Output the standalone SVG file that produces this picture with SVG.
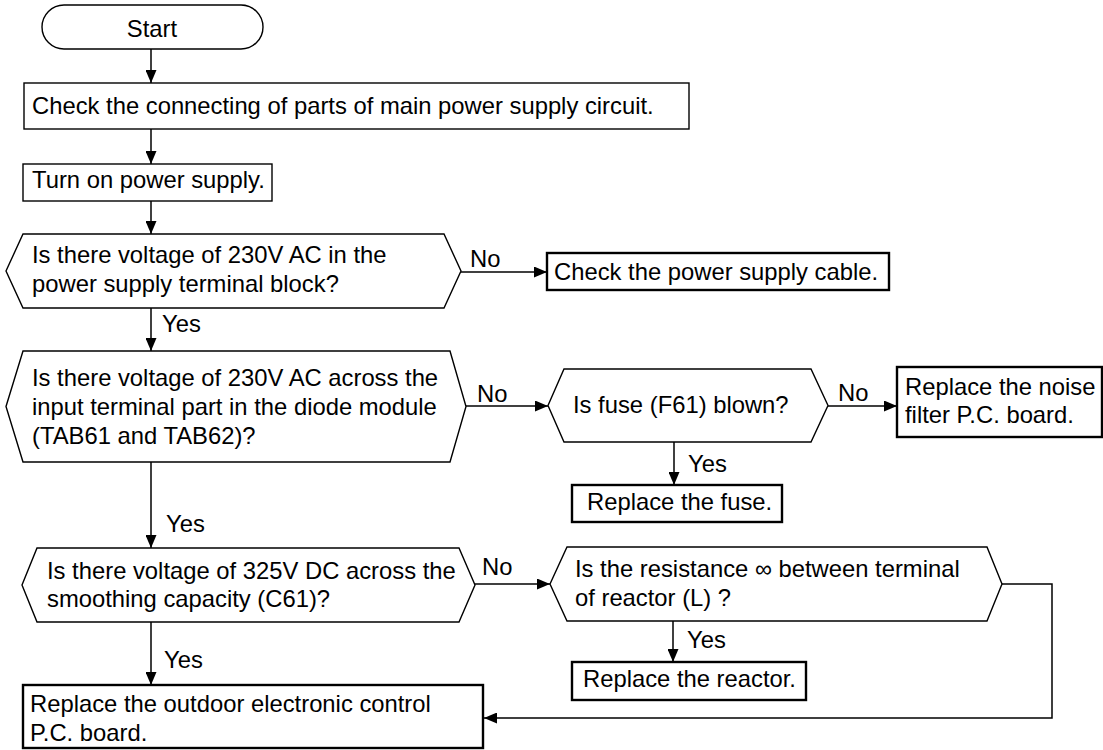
<svg xmlns="http://www.w3.org/2000/svg" width="1103" height="750" viewBox="0 0 1103 750">
<style>
text{font-family:"Liberation Sans",Arial,sans-serif;font-size:23.8px;fill:#000}
.n{fill:#fff;stroke:#000;stroke-width:1.4}
.t{fill:#fff;stroke:#000;stroke-width:2.4}
.c{fill:none;stroke:#000;stroke-width:1.5}
</style>
<defs>
<marker id="a" markerUnits="userSpaceOnUse" markerWidth="13" markerHeight="11" refX="13" refY="5.5" orient="auto">
<path d="M0,0 L13,5.5 L0,11 z" fill="#000"/>
</marker>
</defs>
<rect width="1103" height="750" fill="#fff"/>
<g id="connectors">
<path class="c" d="M151,49 V83" marker-end="url(#a)"/>
<path class="c" d="M151,129 V164" marker-end="url(#a)"/>
<path class="c" d="M151,201 V234" marker-end="url(#a)"/>
<path class="c" d="M461,272 H547" marker-end="url(#a)"/>
<path class="c" d="M151,308 V351" marker-end="url(#a)"/>
<path class="c" d="M466,406 H548" marker-end="url(#a)"/>
<path class="c" d="M828,406 H897" marker-end="url(#a)"/>
<path class="c" d="M674,442 V485" marker-end="url(#a)"/>
<path class="c" d="M151,462 V548" marker-end="url(#a)"/>
<path class="c" d="M475,584 H550" marker-end="url(#a)"/>
<path class="c" d="M673,621 V662" marker-end="url(#a)"/>
<path class="c" d="M151,622 V685" marker-end="url(#a)"/>
<path class="c" d="M1002,584 H1052 V718 H484" marker-end="url(#a)"/>
<text x="470" y="267">No</text>
<text x="162" y="332">Yes</text>
<text x="477" y="402">No</text>
<text x="838" y="401">No</text>
<text x="688" y="472">Yes</text>
<text x="166" y="532">Yes</text>
<text x="482" y="575">No</text>
<text x="687" y="648">Yes</text>
<text x="164" y="668">Yes</text>
</g>
<g id="start">
<rect class="n" x="42" y="5" width="221" height="44" rx="22"/>
<text x="152" y="37" text-anchor="middle">Start</text>
</g>
<g id="check-connecting">
<rect class="n" x="24" y="83" width="665" height="46"/>
<text x="32" y="114">Check the connecting of parts of main power supply circuit.</text>
</g>
<g id="turn-on">
<rect class="n" x="23" y="164" width="249" height="37"/>
<text x="32" y="188">Turn on power supply.</text>
</g>
<g id="q-terminal-block">
<polygon class="n" points="6,271 23,234 444,234 461,271 444,308 23,308"/>
<text x="32" y="263">Is there voltage of 230V AC in the</text>
<text x="32" y="292">power supply terminal block?</text>
</g>
<g id="check-cable">
<rect class="t" x="547" y="253" width="342" height="37"/>
<text x="554" y="280">Check the power supply cable.</text>
</g>
<g id="q-diode-module">
<polygon class="n" points="6,406.5 23,351 450,351 466,406.5 450,462 23,462"/>
<text x="32" y="386">Is there voltage of 230V AC across the</text>
<text x="32" y="415">input terminal part in the diode module</text>
<text x="32" y="444">(TAB61 and TAB62)?</text>
</g>
<g id="q-fuse">
<polygon class="n" points="548,405.5 564,369 811,369 828,405.5 811,442 564,442"/>
<text x="573" y="413">Is fuse (F61) blown?</text>
</g>
<g id="replace-noise-filter">
<rect class="t" x="897" y="367" width="205" height="70"/>
<text x="905" y="395">Replace the noise</text>
<text x="905" y="423">filter P.C. board.</text>
</g>
<g id="replace-fuse">
<rect class="t" x="572" y="485" width="210" height="37"/>
<text x="587" y="510">Replace the fuse.</text>
</g>
<g id="q-smoothing">
<polygon class="n" points="22,585 37,548 459,548 475,585 459,622 37,622"/>
<text x="47" y="579">Is there voltage of 325V DC across the</text>
<text x="47" y="607">smoothing capacity (C61)?</text>
</g>
<g id="q-reactor">
<polygon class="n" points="550,584 567,547 987,547 1002,584 987,621 567,621"/>
<text x="575" y="577">Is the resistance ∞ between terminal</text>
<text x="575" y="606">of reactor (L) ?</text>
</g>
<g id="replace-reactor">
<rect class="t" x="572" y="662" width="234" height="38"/>
<text x="583" y="687">Replace the reactor.</text>
</g>
<g id="replace-pcb">
<rect class="t" x="23" y="685" width="460" height="63"/>
<text x="30" y="712">Replace the outdoor electronic control</text>
<text x="30" y="741">P.C. board.</text>
</g>
</svg>
